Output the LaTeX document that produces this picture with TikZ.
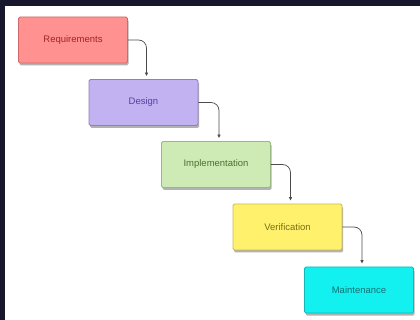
\documentclass[tikz,border=0pt]{standalone}
\usepackage{fontspec}
\setmainfont{Liberation Sans}
\usepackage{tikz}
\usetikzlibrary{arrows.meta,positioning,shadows}
\usepackage{xcolor}
\definecolor{bgdark}{HTML}{16162C}
\definecolor{reqfill}{HTML}{FF9191}
\definecolor{reqline}{HTML}{D06A6A}
\definecolor{reqtext}{HTML}{A02424}
\definecolor{desfill}{HTML}{C2B2F2}
\definecolor{desline}{HTML}{8E80C0}
\definecolor{destext}{HTML}{5242A0}
\definecolor{impfill}{HTML}{CEEBB6}
\definecolor{impline}{HTML}{98B886}
\definecolor{imptext}{HTML}{4A7030}
\definecolor{verfill}{HTML}{FFF16C}
\definecolor{verline}{HTML}{C8BC50}
\definecolor{vertext}{HTML}{7A7012}
\definecolor{mntfill}{HTML}{12F0F0}
\definecolor{mntline}{HTML}{10B8B8}
\definecolor{mnttext}{HTML}{107272}

\begin{document}
\begin{tikzpicture}[
  x=1pt, y=-1pt,
  >=Latex,
  phase/.style={draw, rounded corners=1.5pt, line width=.8pt, align=center, inner sep=3pt,
    minimum width=109pt, minimum height=46pt, font=\fontsize{9.5}{11}\selectfont,
    drop shadow={shadow xshift=1pt, shadow yshift=-2.5pt, opacity=.6}},
  flow/.style={->, line width=.7pt, draw=black!70, rounded corners=8pt, shorten >=3pt,
    >={Latex[length=3.5pt,width=3.5pt]}}
]
\fill[bgdark] (0,0) rectangle (420,320);
\fill[white] (5,6) rectangle (420,320);
\node[phase, fill=reqfill, draw=reqline, text=reqtext] (req) at (73,40) {Requirements};
\node[phase, fill=desfill, draw=desline, text=destext] (des) at (143.5,102.5) {Design};
\node[phase, fill=impfill, draw=impline, text=imptext] (imp) at (216,164.5) {Implementation};
\node[phase, fill=verfill, draw=verline, text=vertext] (ver) at (287.5,227) {Verification};
\node[phase, fill=mntfill, draw=mntline, text=mnttext] (mnt) at (359,290) {Maintenance};
\draw[flow] (req.east) -| ([xshift=3pt]des.north);
\draw[flow] (des.east) -| ([xshift=3pt]imp.north);
\draw[flow] (imp.east) -| ([xshift=3pt]ver.north);
\draw[flow] (ver.east) -| ([xshift=3pt]mnt.north);
\end{tikzpicture}
\end{document}
